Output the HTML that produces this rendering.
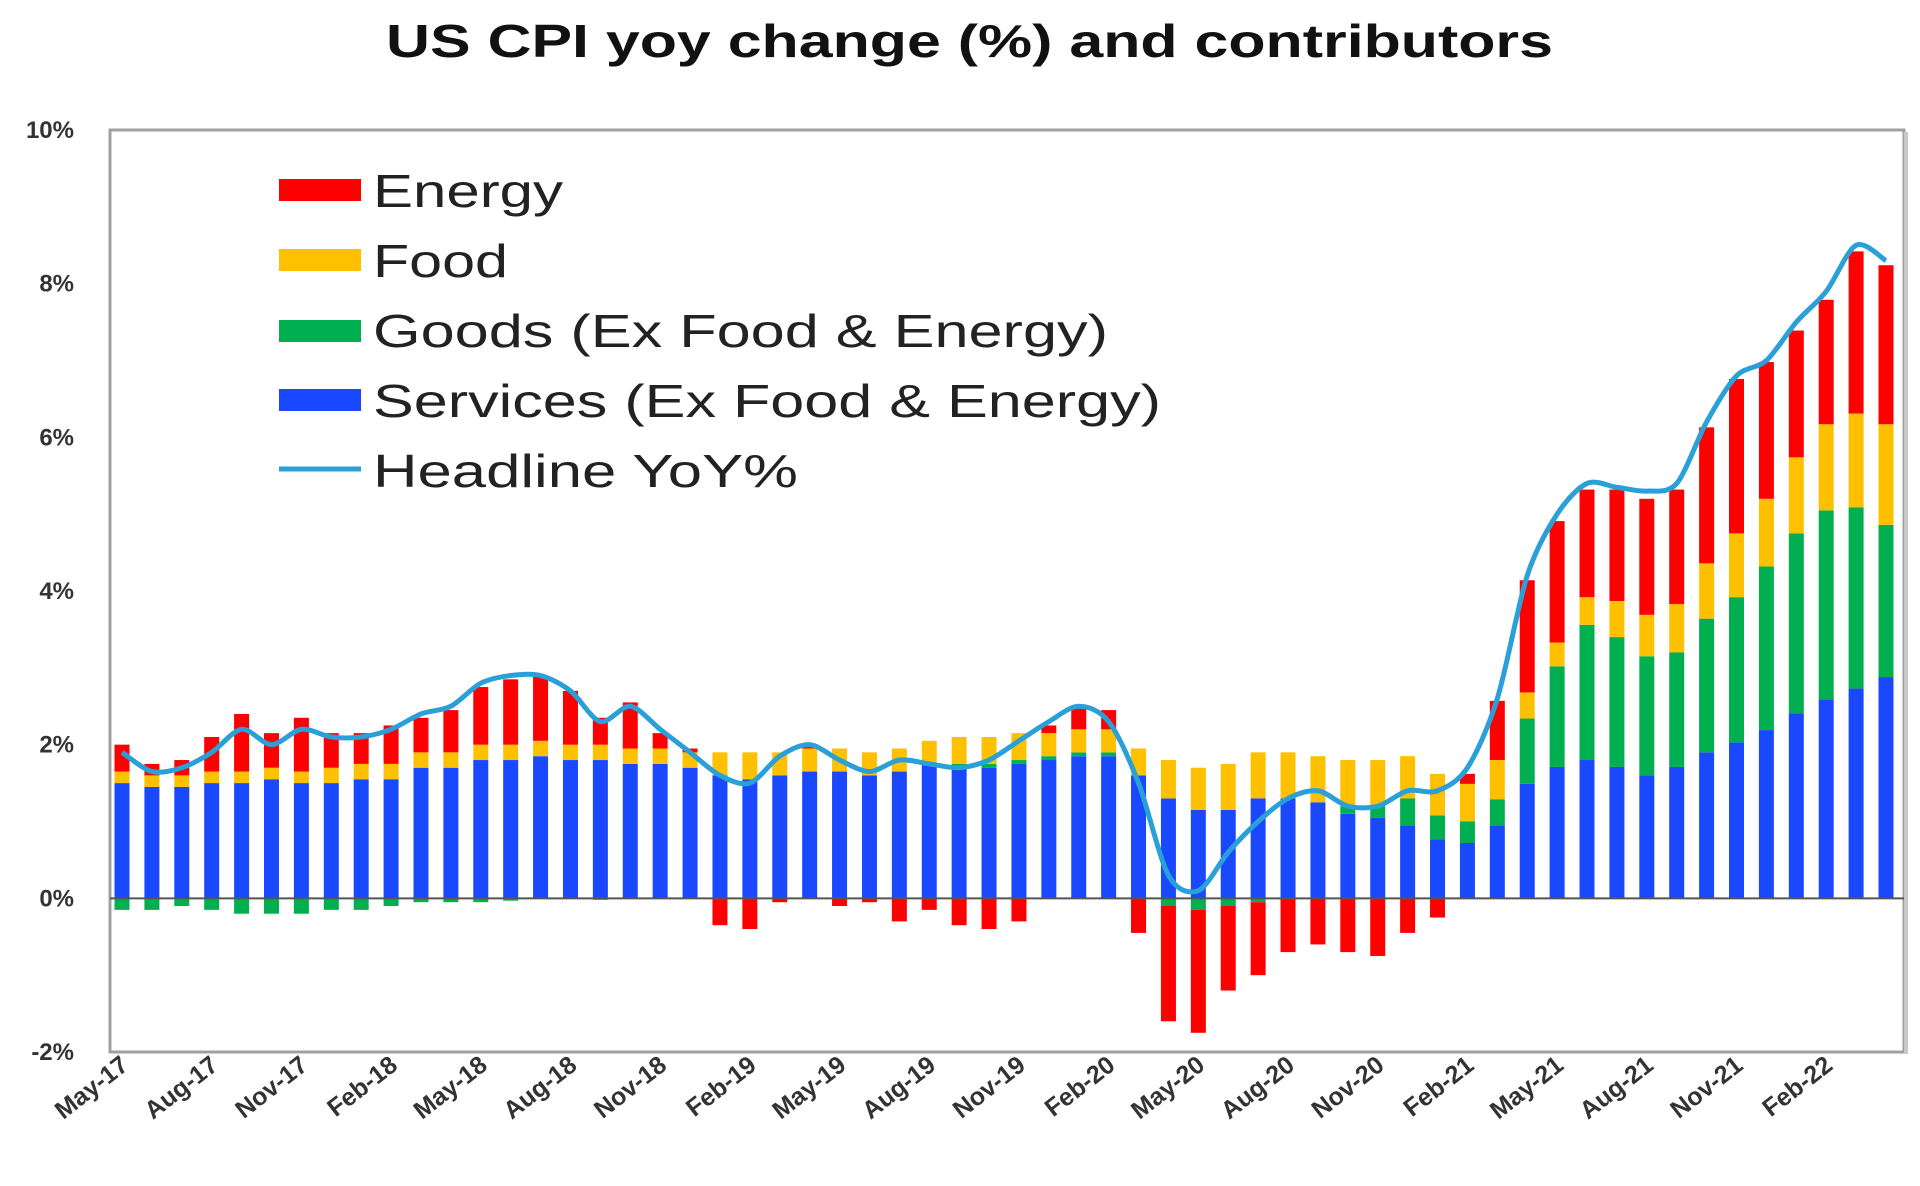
<!DOCTYPE html>
<html><head><meta charset="utf-8"><style>
html,body{margin:0;padding:0;background:#fff;}
svg{display:block;font-family:"Liberation Sans",Arial,sans-serif;}
</style></head><body>
<svg id="chart" width="1920" height="1186" viewBox="0 0 1920 1186" xmlns="http://www.w3.org/2000/svg">
<text x="386" y="57" font-size="46" font-weight="bold" fill="#111" textLength="1167" lengthAdjust="spacingAndGlyphs">US CPI yoy change (%) and contributors</text>
<rect x="110" y="130" width="1794" height="922" fill="#fff" stroke="#a0a0a0" stroke-width="3"/>
<line x1="1906" y1="132" x2="1906" y2="1054" stroke="#c8c8c8" stroke-width="4"/>
<g id="yaxis"></g><g id="bars"></g><g id="zero"></g><g id="line"></g><g id="xaxis"></g>
<g id="legend">
 <g><rect x="279" y="179" width="82" height="22" fill="#ff0000"/><text x="373" y="207" font-size="46" fill="#222" textLength="190" lengthAdjust="spacingAndGlyphs">Energy</text></g>
 <g><rect x="279" y="249" width="82" height="22" fill="#ffc000"/><text x="373" y="277" font-size="46" fill="#222" textLength="135" lengthAdjust="spacingAndGlyphs">Food</text></g>
 <g><rect x="279" y="320" width="82" height="22" fill="#00b050"/><text x="373" y="347" font-size="46" fill="#222" textLength="735" lengthAdjust="spacingAndGlyphs">Goods (Ex Food &amp; Energy)</text></g>
 <g><rect x="279" y="389" width="82" height="22" fill="#1a48ff"/><text x="373" y="417" font-size="46" fill="#222" textLength="788" lengthAdjust="spacingAndGlyphs">Services (Ex Food &amp; Energy)</text></g>
 <g><line x1="279" y1="469" x2="361" y2="469" stroke="#2aa0d8" stroke-width="5"/><text x="373" y="487" font-size="46" fill="#222" textLength="425" lengthAdjust="spacingAndGlyphs">Headline YoY%</text></g>
</g>
</svg>
<script>
const months = ["May-17","Jun-17","Jul-17","Aug-17","Sep-17","Oct-17","Nov-17","Dec-17","Jan-18","Feb-18","Mar-18","Apr-18","May-18","Jun-18","Jul-18","Aug-18","Sep-18","Oct-18","Nov-18","Dec-18","Jan-19","Feb-19","Mar-19","Apr-19","May-19","Jun-19","Jul-19","Aug-19","Sep-19","Oct-19","Nov-19","Dec-19","Jan-20","Feb-20","Mar-20","Apr-20","May-20","Jun-20","Jul-20","Aug-20","Sep-20","Oct-20","Nov-20","Dec-20","Jan-21","Feb-21","Mar-21","Apr-21","May-21","Jun-21","Jul-21","Aug-21","Sep-21","Oct-21","Nov-21","Dec-21","Jan-22","Feb-22","Mar-22","Apr-22"];
const services = [1.5,1.45,1.45,1.5,1.5,1.55,1.5,1.5,1.55,1.55,1.7,1.7,1.8,1.8,1.85,1.8,1.8,1.75,1.75,1.7,1.6,1.55,1.6,1.65,1.65,1.6,1.65,1.75,1.7,1.7,1.75,1.8,1.85,1.85,1.6,1.3,1.15,1.15,1.3,1.3,1.25,1.1,1.05,0.95,0.77,0.72,0.95,1.49,1.71,1.8,1.71,1.6,1.71,1.9,2.03,2.19,2.41,2.59,2.73,2.88];
const goods = [-0.15,-0.15,-0.1,-0.15,-0.2,-0.2,-0.2,-0.15,-0.15,-0.1,-0.05,-0.05,-0.05,-0.03,0,0,-0.02,0,0,0,0,0,0,0,0,0,0,0,0.05,0.05,0.05,0.05,0.05,0.05,0,-0.1,-0.15,-0.1,-0.05,0,0,0.1,0.15,0.35,0.31,0.28,0.34,0.85,1.31,1.76,1.69,1.55,1.49,1.74,1.89,2.13,2.34,2.46,2.36,1.98];
const food = [0.15,0.15,0.15,0.15,0.15,0.15,0.15,0.2,0.2,0.2,0.2,0.2,0.2,0.2,0.2,0.2,0.2,0.2,0.2,0.2,0.3,0.35,0.3,0.3,0.3,0.3,0.3,0.3,0.35,0.35,0.35,0.3,0.3,0.3,0.35,0.5,0.55,0.6,0.6,0.6,0.6,0.6,0.6,0.55,0.54,0.49,0.51,0.34,0.31,0.36,0.47,0.54,0.63,0.72,0.83,0.88,0.99,1.12,1.22,1.31];
const energy = [0.35,0.15,0.2,0.45,0.75,0.45,0.7,0.45,0.4,0.5,0.45,0.55,0.75,0.85,0.85,0.7,0.35,0.6,0.2,0.05,-0.35,-0.4,-0.05,0.05,-0.1,-0.05,-0.3,-0.15,-0.35,-0.4,-0.3,0.1,0.3,0.25,-0.45,-1.5,-1.6,-1.1,-0.95,-0.7,-0.6,-0.7,-0.75,-0.45,-0.25,0.13,0.77,1.46,1.58,1.4,1.45,1.51,1.49,1.77,2.01,1.78,1.65,1.62,2.11,2.07];
const headline = [1.9,1.65,1.7,1.9,2.2,2.0,2.2,2.1,2.1,2.2,2.4,2.5,2.8,2.9,2.9,2.7,2.3,2.5,2.2,1.9,1.6,1.5,1.85,2.0,1.8,1.65,1.8,1.75,1.7,1.8,2.05,2.3,2.5,2.3,1.5,0.3,0.1,0.6,1.0,1.3,1.4,1.2,1.2,1.4,1.4,1.7,2.6,4.2,5.0,5.4,5.35,5.3,5.4,6.2,6.8,7.0,7.5,7.9,8.5,8.3];
const yTicks = [-2,0,2,4,6,8,10];

const NS="http://www.w3.org/2000/svg";
const top0=130,bot=1052,yMin=-2,yMax=10;
const y=v=>bot-(v-yMin)/(yMax-yMin)*(bot-top0);
const x=i=>122+i*(1886-122)/(months.length-1);
const bw=15;
function mk(tag,attrs,parent){const e=document.createElementNS(NS,tag);for(const k in attrs)e.setAttribute(k,attrs[k]);parent.appendChild(e);return e;}

const ya=document.getElementById('yaxis');
yTicks.forEach(t=>{
  const tx=mk('text',{x:74,y:y(t)+8,'font-size':24,'font-weight':'bold','text-anchor':'end',fill:'#333'},ya);
  tx.textContent=t+'%';
  
  
});

const bars=document.getElementById('bars');
const series=[["services",services,"#1a48ff"],["goods",goods,"#00b050"],["food",food,"#ffc000"],["energy",energy,"#ff0000"]];
months.forEach((m,i)=>{
  let pos=0,neg=0;
  series.forEach(([n,arr,c])=>{
    const v=arr[i]; if(!v) return;
    let a,b;
    if(v>0){a=pos;b=pos+v;pos=b;}else{a=neg;b=neg+v;neg=b;}
    const r=mk('rect',{x:x(i)-bw/2,y:Math.min(y(a),y(b)),width:bw,height:Math.abs(y(a)-y(b)),fill:c},bars);
    
    
  });
});

const z=mk('line',{x1:110,x2:1904,y1:y(0),y2:y(0),stroke:'#555','stroke-width':2},document.getElementById('zero'));



const pts=headline.map((v,i)=>[x(i),y(v)]);
let d='M'+pts[0][0]+','+pts[0][1];
for(let i=0;i<pts.length-1;i++){
  const p0=pts[Math.max(0,i-1)],p1=pts[i],p2=pts[i+1],p3=pts[Math.min(pts.length-1,i+2)];
  const k=0.15;
  d+=' C'+(p1[0]+(p2[0]-p0[0])*k)+','+(p1[1]+(p2[1]-p0[1])*k)+' '+(p2[0]-(p3[0]-p1[0])*k)+','+(p2[1]-(p3[1]-p1[1])*k)+' '+p2[0]+','+p2[1];
}
const ln=mk('path',{d:d,fill:'none',stroke:'#2aa0d8','stroke-width':5,'stroke-linejoin':'round'},document.getElementById('line'));



const xa=document.getElementById('xaxis');
months.forEach((m,i)=>{
  if(i%3!==0) return;
  const tx=mk('text',{x:0,y:0,'font-size':25,'font-weight':'bold','text-anchor':'end',fill:'#333',transform:'translate('+(x(i)+8)+',1068) rotate(-38)'},xa);
  tx.textContent=m;
  
  
});
</script>
</body></html>
